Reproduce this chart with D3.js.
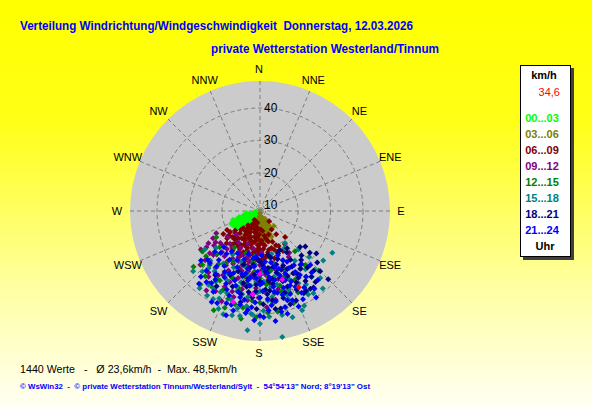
<!DOCTYPE html>
<html>
<head>
<meta charset="utf-8">
<script src="https://cdn.jsdelivr.net/npm/d3@7"></script>
<style>
body { margin:0; padding:0; overflow:hidden; }
svg { display:block; font-family:"Liberation Sans", Arial, sans-serif; }
text { white-space:pre; }
</style>
</head>
<body>
<svg id="chart" width="592" height="407"></svg>
<script>
// Richtungen und Ringe
var richtungen = ["N","NNE","NE","ENE","E","ESE","SE","SSE","S","SSW","SW","WSW","W","WNW","NW","NNW"];
var ringWerte = [10, 20, 30, 40];
var zeitraeume = ["00...03","03...06","06...09","09...12","12...15","15...18","18...21","21...24"];
var aktuellWert = "34,6";

// Messwerte [Richtung in Grad, km/h]
var p0003 = [[228,10],[235,11],[242,10.5],[250,11],[256,10],[261,9.5],[232,12],[238,12.5],[245,13],[252,12],[258,11.5],[226,13.5],[234,14],[240,14.5],[247,15],[255,13.5],[229,15.5],[236,16],[243,16.5],[250,16],[239,17.5],[246,18],[252,17],[233,17],[224,12],[260,12.5],[248,13.8],[231,14.8],[244,11.8],[254,15],[237,15.2],[241,12.3],[249,17.2],[257,13],[227,16.4],[218,11],[212,12.5],[220,15],[230,18.3],[214,10],
	[225,11],[236,9.8],[247,9.6],[253,13.2],[243,14.2],[235,13],[229,12.8],[222,13],[238,16.8],[244,17.8],[251,14.5],[233,15.8],[246,16],[240,10.8],[230,11]];
var p0306 = [[178,9],[170,10],[160,10.5],[185,10],[175,11.5],[165,12],[155,12.5],[182,12.5],[172,13.5],[162,14],[150,14.5],[188,13],[177,15],[167,15.5],[157,16],[180,16.8],[170,17.5],[163,18],[137,14.6],[146,12],[192,11],[174,12.8],[168,14.5],[158,13.2],[183,14.7],[176,17],
	[166,11],[176,10.2],[186,11.5],[153,11],[171,12],[161,15],[181,13.5],[173,16],[156,17],[166,16.8],[189,15.5],[179,18],[148,13.5]];
var p0609 = [[200,12],[210,13],[190,13.5],[220,14],[195,15],[205,15.5],[215,16],[185,16],[225,16.5],[200,17],[190,18],[210,18.2],[180,18.5],[195,19],[205,19.5],[218,19],[175,20],[185,20.5],[198,21],[208,21.5],[188,22],[172,22.5],[195,23],[180,23.5],[227,20],[232,18],[220,22],[136,19.4],[155,19.9],[138,12.5],[145,17],[160,21],[165,18],[150,22.5],[170,16],[178,14],[212,11.5],[202,20],[192,16.5],[183,21.5],[163,23.5],[215,23],[197,24.5],[240,20],[148,15],
	[187,14],[197,13],[207,14.5],[182,15.5],[192,15],[202,16.5],[212,17],[222,17.5],[177,17.5],[187,17.2],[197,17.8],[207,18.5],[217,20.5],[172,19],[182,19.8],[192,20],[202,22],[212,21],[222,20],[177,21.8],[167,20.5],[187,23.8],[203,23],[230,21.5],[158,18.5],[168,17],[173,14.5],[193,12],[205,12.5],[215,14.5],[183,17],[199,18.8],[209,16],[228,18.5],[235,19.5],[178,24],[160,16],[152,20.5],[143,21],[190,24],
	[194,14.2],[204,13.6],[214,15.3],[224,15.6],[184,18.8],[194,18.3],[204,17.3],[214,18.4],[224,19.2],[174,18.7],[179,20.8],[189,21.2],[199,20.2],[209,20.3],[219,21.5],[169,21.2],[185,22.8],[193,22.2],[205,22.7],[226,22.6],[176,23],[163,20.2],[157,22],[232,20.5],[238,21.6]];
var p0912 = [[235,25],[243,23.4],[214,37.8],[238,27],[228,24],[222,22],[215,20],[208,21],[200,19],[190,20],[185,22],[195,23],[205,24],[218,26],[230,28.5],[225,30],[212,28],[200,27],[190,26],[180,25],[175,28],[185,29],[198,30],[210,31],[220,33],[205,34],[193,33],[183,32],[172,31],[165,27],[160,24],[155,28],[168,22],[178,21],[197,36],[188,38],[203,38.5],[215,35.5],[228,33],[240,25],[232,21],[225,18.5],[160,34],[150,31],[170,36],[181,35],[192,24.2],[207,26.5],[196,21.5],[186,27.5],[174,24],[162,30],[148,25],[145,24],[218,34],
	[183,23.5],[193,25.5],[203,25],[213,24],[223,25.5],[233,26],[178,26.5],[188,28.5],[208,29],[218,30.5],[228,31],[173,29.5],[193,31.5],[203,32],[213,32],[187,34],[177,33],[167,33],[197,27.5],[207,22.5],[217,22.5],[227,28],[237,30],[182,30.5],[199,34.5],[209,36.5],[176,38],[188,36],[158,27],[165,30],
	[198,25.8],[210,25.2],[221,23.8],[231,24],[186,24.8],[176,25.6],[166,24.8],[201,22.8],[213,26.8],[225,27.2],[236,28.2],[171,26.2],[191,27.2]];
var p1215 = [[235,30],[239,24],[227,32.6],[219,37.4],[139,24.7],[135.5,34],[175.5,39.7],[170,39.8],[215,22],[225,27],[230,35],[210,30],[200,28],[190,31],[180,29],[170,27],[160,30],[150,28],[145,33],[155,36],[165,34],[185,36],[195,38],[205,35],[212,36],[200,40],[178,33],[168,23],[188,24],[198,22],[208,26],[218,29],[160,38.5],[150,37],[140,30],[190,42],[205,42],[182,41],[172,37],[195,33],[228,25],[213,33],[185,27],[175,31],[165,32],
	[183,30.5],[193,29],[203,30.5],[213,27.5],[223,31],[173,28.5],[163,29],[153,32],[180,36.5],[190,38.5],[200,37],[210,33],[170,34],[160,35],[145,30],[220,34.5],[230,30]];
var p1518 = [[186,45.2],[170,47.7],[199.6,42],[120,34],[141,39],[190.8,41.2],[184,40.3],[141.8,34],[223.6,34],[211,36],[142,20.8],[165,22],[175,24],[200,25],[215,28],[225,30],[192,28],[183,30],[172,32],[160,34],[150,31],[145,27],[155,25],[133,29],[128,33],[138,36],[150,38],[162,37],[175,36],[188,35],[198,37],[208,39],[218,38.5],[205,32],[195,31],[180,33],[168,29],[158,28],[148,35],[178,39],[168,41],[180,43],[193,39],[203,41],[228,36],[235,29],[212,24],[187,22.5],[177,27],[163,42.5],[155,40.5],[172,35],[188,38],[196,34],[206,36],[212,39],[230,26],[135,25],[147,22],
	[182,33.5],[192,34.5],[202,35.5],[212,34],[222,32],[172,36.5],[162,35.5],[152,33.5],[142,31],[157,31],[167,31.5],[177,30],[187,31.5],[197,32.5],[207,30],[217,31.5],[185,40],[175,41],[165,39],[195,41.5],[205,38],[215,36],[137,33],[147,38.5],[157,41.5],[185,25],[195,26],[205,27.5],[175,26.5],[165,25]];
var p1821 = [[132,24.9],[132,32],[145,37],[130,28.3],[147,36.8],[150,36.6],[171,38.8],[215,32.3],[153,21.8],[160,24],[170,22],[180,24],[190,26],[200,28],[175,27],[165,28],[155,28],[145,30],[138,33],[150,32],[160,33],[170,31],[180,30],[190,32],[200,33],[185,35],[175,34],[165,36],[155,35],[140,28],[148,26],[158,38],[168,39],[178,37],[192,37],[205,30],[195,29],[185,28],[172,26],[162,31],[152,30],[142,34],[135,38],[127,30],[144,22.5],[176,32.5],[188,33.5],[163,25.5],[210,35],[183,23],
	[137,27],[143,29],[149,31],[157,30],[163,30],[173,30],[183,31],[193,31],[157,26.5],[167,26],[177,25],[187,25],[197,25.5],[147,34],[153,33],[163,34.5],[173,33],[183,33],[193,34.5],[142,36],[152,37],[162,38.5],[172,36],[182,38.5],[140,31],[150,28],[160,27.5],[170,29.5],[180,28],[190,29.5],[200,31],[135,34.5],[128,26],[147,23.5],[157,22.5],[167,23]];
var p2124 = [[217,35.7],[192,37.8],[165.4,38.8],[154,38.5],[227,30.3],[222,33],[210,30],[200,31],[190,30],[180,31],[170,32],[160,31],[150,30],[145,33],[155,34],[165,35],[175,35.5],[185,34],[195,34],[205,33],[215,32],[220,28],[212,26],[202,27],[192,26.5],[182,27],[172,29],[162,27],[152,26],[142,29],[137,31],[158,23],[168,24.5],[178,22],[188,23],[198,24],[208,23],[218,25],[228,27],[200,36],[210,37],[185,38],[175,39],[165,41],[180,40.5],[195,40],[205,39.5],[170,36.5],[160,37.5],[150,35.5],[140,36],[147,40],[188,31.5],[178,33],[168,30],[158,29],[196,28.5],[206,29.5],[214,35],[224,30.5],[186,25.5],[176,26],[156,32],[148,28],[163,33],[190,36],[200,38.5],[183,42],[172,42.5],
	[153,28],[163,29],[173,27.5],[183,29],[193,28],[203,29],[213,28.5],[223,26],[148,31.5],[158,33],[168,34],[178,30.5],[188,29],[198,32.5],[208,31.5],[218,30],[153,36.5],[163,37],[173,37.5],[183,36.5],[193,35.5],[203,34.5],[213,33.5],[222,35.5],[158,40],[168,40],[178,41],[188,40],[198,42],[208,40],[145,37.5],[140,33],[155,25],[165,26],[175,24],[185,22.5],[195,22],[205,25],[215,23.5],[225,24],[230,32],[220,37.5],[187,39],[197,38.5],[160,35.5],[170,33.5],[180,35]];
var markiert = [[185,34],[180,27.7],[196.5,37.5],[162,30.5]];
var aktuell = [[153,34.6]];

var serien = [p0003, p0306, p0609, p0912, p1215, p1518, p1821, p2124];
var farben = ["#00ff00","#808000","#800000","#800080","#008000","#008080","#000080","#0000ff"];

var svg = d3.select("#chart");
var cx = 260, cy = 211;

// Hintergrund
var defs = svg.append("defs");
var grad = defs.append("linearGradient").attr("id","bg").attr("x1",0).attr("y1",0).attr("x2",0).attr("y2",1);
grad.append("stop").attr("offset","0").attr("stop-color","#ffff00");
grad.append("stop").attr("offset","0.3").attr("stop-color","#ffff18");
grad.append("stop").attr("offset","0.7").attr("stop-color","#ffffa0");
grad.append("stop").attr("offset","1").attr("stop-color","#fffff4");
svg.append("rect").attr("width",592).attr("height",407).attr("fill","url(#bg)");

var r = d3.scaleLinear().domain([8.3, 48.3]).range([0, 130]);
var winkel = d3.scaleLinear().domain([0, 360]).range([0, 2*Math.PI]);
function px(d) { return cx + r(d[1]) * Math.sin(winkel(d[0])) }
function py(d) { return cy - r(d[1]) * Math.cos(winkel(d[0])) }

// Scheibe
svg.append("circle").attr("cx",cx).attr("cy",cy).attr("r",r(48.3)).attr("fill","#cbcbcb");

var gitter = svg.append("g").attr("stroke","#7c7c7c").attr("stroke-dasharray","4,3").attr("fill","none");
gitter.selectAll("circle").data(ringWerte).enter().append("circle")
	.attr("cx",cx).attr("cy",cy).attr("r",function(d) { return r(d) });
gitter.selectAll("line").data(richtungen).enter().append("line")
	.attr("x1",cx).attr("y1",cy)
	.attr("x2",function(d,i) { return cx + r(48.3)*Math.sin(winkel(i*22.5)) })
	.attr("y2",function(d,i) { return cy - r(48.3)*Math.cos(winkel(i*22.5)) });

svg.selectAll("text.ring").data(ringWerte).enter().append("text")
	.attr("class","ring")
	.attr("x",cx+4).attr("y",function(d) { return cy - r(d) + 4 })
	.attr("font-size",12).attr("fill","#000")
	.text(function(d) { return d });

svg.selectAll("text.dir").data(richtungen).enter().append("text")
	.attr("class","dir")
	.attr("x",function(d,i) { return cx - 1 + 142*Math.sin(winkel(i*22.5)) })
	.attr("y",function(d,i) { return cy + 4 - 142*Math.cos(winkel(i*22.5)) })
	.attr("text-anchor","middle").attr("font-size",11).attr("fill","#000")
	.text(function(d) { return d });

// Punkte
var raute = "M0,-3L3,0L0,3L-3,0Z";
serien.forEach(function(s, i) {
	svg.append("g").selectAll("path").data(s).enter().append("path")
		.attr("d", raute)
		.attr("transform", function(d) { return "translate(" + px(d) + "," + py(d) + ")" })
		.attr("fill", farben[i]);
});
svg.append("g").selectAll("path").data(markiert).enter().append("path")
	.attr("d", raute).attr("fill","#ff00ff")
	.attr("transform", function(d) { return "translate(" + px(d) + "," + py(d) + ")" });
svg.append("g").selectAll("path").data(aktuell).enter().append("path")
	.attr("d", raute).attr("fill","#ff0000")
	.attr("transform", function(d) { return "translate(" + px(d) + "," + py(d) + ")" });

// Titel
svg.append("text").attr("x",20).attr("y",30).attr("font-size",13).attr("font-weight","bold").attr("fill","#0000ff")
	.attr("textLength",393).attr("lengthAdjust","spacingAndGlyphs")
	.text("Verteilung Windrichtung/Windgeschwindigkeit  Donnerstag, 12.03.2026");
svg.append("text").attr("x",211).attr("y",53).attr("font-size",13).attr("font-weight","bold").attr("fill","#0000ff")
	.attr("textLength",228).attr("lengthAdjust","spacingAndGlyphs")
	.text("private Wetterstation Westerland/Tinnum");

// Legende
svg.append("rect").attr("x",523).attr("y",68).attr("width",51).attr("height",192).attr("fill","#404040");
svg.append("rect").attr("x",520.5).attr("y",65.5).attr("width",50).attr("height",191).attr("fill","#fff").attr("stroke","#000");
svg.append("text").attr("x",544).attr("y",79).attr("text-anchor","middle").attr("font-size",11).attr("font-weight","bold").text("km/h");
svg.append("text").attr("x",560).attr("y",96).attr("text-anchor","end").attr("font-size",11).attr("fill","#ff0000").text(aktuellWert);
svg.selectAll("text.lg").data(zeitraeume).enter().append("text")
	.attr("class","lg")
	.attr("x",542).attr("y",function(d,i) { return 122 + i*16 })
	.attr("text-anchor","middle").attr("font-size",11).attr("font-weight","bold")
	.attr("fill",function(d,i) { return farben[i] })
	.text(function(d) { return d });
svg.append("text").attr("x",545).attr("y",250).attr("text-anchor","middle").attr("font-size",11).attr("font-weight","bold").text("Uhr");

// Fusszeilen
svg.append("text").attr("x",20).attr("y",373).attr("font-size",11).attr("fill","#000")
	.attr("textLength",217).attr("lengthAdjust","spacingAndGlyphs")
	.text("1440 Werte   -   \u00d8 23,6km/h  -  Max. 48,5km/h");
svg.append("text").attr("x",20).attr("y",389).attr("font-size",8).attr("font-weight","bold").attr("fill","#0000ff")
	.attr("textLength",350).attr("lengthAdjust","spacingAndGlyphs")
	.text("\u00a9 WsWin32  -  \u00a9 private Wetterstation Tinnum/Westerland/Sylt  -  54\u00b054'13\" Nord; 8\u00b019'13\" Ost");
</script>
</body>
</html>
